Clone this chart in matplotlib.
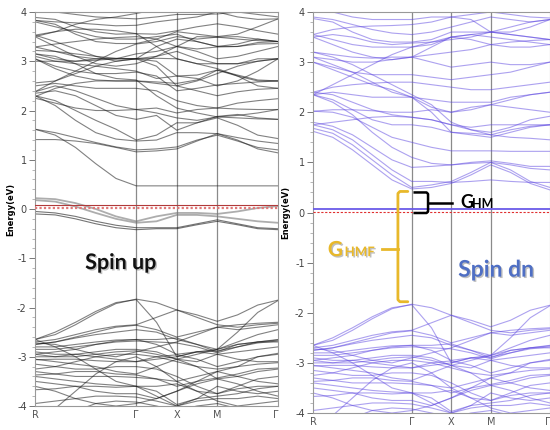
import matplotlib
matplotlib.use("Agg")
import matplotlib.pyplot as plt
import matplotlib.patheffects as pe
import numpy as np

plt.rcParams["axes.unicode_minus"] = False

# ---------------- data ----------------
# k-path sample positions (R ... Γ ... X ... M ... Γ)
k_points = [0.0, 0.2, 0.4, 0.6, 0.8, 1.0, 1.2, 1.4, 1.6, 1.8, 2.0, 2.2, 2.4]
tick_pos = [0.0, 1.0, 1.4, 1.8, 2.4]
tick_labels = ["R", "Γ", "X", "M", "Γ"]

# valence bands (nearly identical)
valence_bands = [
    [-2.65, -2.55, -2.35, -2.12, -1.92, -1.83, -1.90, -2.05, -2.15, -2.28, -2.15, -1.95, -1.85],
    [-2.65, -2.50, -2.30, -2.08, -1.90, -1.84, -2.30, -3.00, -2.90, -2.85, -2.50, -2.10, -1.86],
    [-2.70, -2.65, -2.55, -2.45, -2.38, -2.35, -2.20, -2.05, -2.20, -2.35, -2.40, -2.35, -2.32],
    [-2.75, -2.70, -2.60, -2.50, -2.40, -2.36, -2.45, -2.60, -2.50, -2.40, -2.45, -2.40, -2.35],
    [-2.80, -2.80, -2.75, -2.70, -2.66, -2.65, -2.65, -2.62, -2.75, -2.90, -2.75, -2.70, -2.65],
    [-2.85, -2.85, -2.80, -2.75, -2.70, -2.68, -2.70, -2.72, -2.80, -2.92, -2.80, -2.72, -2.68],
    [-2.90, -2.95, -2.95, -2.90, -2.85, -2.85, -2.90, -3.05, -2.95, -2.85, -2.70, -2.55, -2.45],
    [-2.95, -3.00, -3.00, -2.95, -2.90, -2.88, -2.95, -3.05, -3.10, -2.95, -2.90, -2.85, -2.80],
    [-3.00, -3.00, -2.95, -3.00, -3.05, -3.10, -3.05, -3.00, -2.90, -2.95, -3.05, -3.10, -3.10],
    [-3.05, -3.10, -3.15, -3.20, -3.30, -3.35, -3.20, -3.05, -3.20, -3.25, -3.20, -3.15, -3.12],
    [-3.25, -3.20, -3.10, -3.00, -2.95, -2.95, -3.00, -3.10, -3.20, -3.45, -3.40, -3.30, -3.25],
    [-3.30, -3.35, -3.40, -3.40, -3.40, -3.42, -3.45, -3.50, -3.40, -3.30, -3.40, -3.50, -3.55],
    [-3.40, -3.45, -3.50, -3.55, -3.58, -3.60, -3.60, -3.55, -3.70, -3.75, -3.65, -3.60, -3.60],
    [-3.50, -3.55, -3.60, -3.70, -3.75, -3.75, -3.85, -3.70, -3.50, -3.30, -3.20, -3.00, -2.95],
    [-3.95, -3.90, -3.85, -3.80, -3.80, -3.82, -3.90, -4.00, -3.90, -3.85, -3.85, -3.80, -3.85],
    [-4.30, -4.05, -3.70, -3.35, -3.10, -3.00, -3.20, -3.50, -3.70, -3.90, -4.00, -3.95, -3.90],
    [-2.65, -2.80, -3.00, -3.25, -3.50, -3.60, -3.80, -4.00, -3.85, -3.60, -3.70, -3.75, -3.70],
    [-3.60, -3.70, -3.85, -3.95, -4.00, -3.95, -3.85, -3.70, -3.55, -3.45, -3.55, -3.70, -3.80],
    [-4.50, -4.30, -4.10, -3.95, -3.90, -3.92, -4.00, -4.10, -4.00, -3.95, -4.05, -4.10, -4.20],
    [-2.72, -2.75, -2.85, -2.95, -3.00, -2.90, -2.80, -2.70, -2.55, -2.40, -2.35, -2.32, -2.30],
    [-3.15, -3.20, -3.25, -3.25, -3.20, -3.20, -3.25, -3.40, -3.60, -3.75, -3.60, -3.45, -3.40],
    [-2.75, -2.70, -2.62, -2.55, -2.50, -2.45, -2.50, -2.65, -2.75, -2.85, -2.75, -2.70, -2.70],
    [-2.95, -2.90, -2.85, -2.75, -2.68, -2.65, -2.75, -2.95, -2.90, -2.88, -2.80, -2.70, -2.66],
    [-3.37, -3.35, -3.30, -3.30, -3.35, -3.37, -3.45, -3.60, -3.50, -3.43, -3.35, -3.25, -3.23],
    [-3.06, -3.05, -3.05, -3.08, -3.10, -3.10, -3.00, -2.96, -3.05, -3.20, -3.10, -3.00, -2.93],
    [-3.67, -3.65, -3.60, -3.60, -3.62, -3.60, -3.70, -3.97, -3.85, -3.80, -3.75, -3.65, -3.60],
]

# spin-up bands around the Fermi level
up_fermi_bands = [
    [0.22, 0.20, 0.12, 0.00, -0.15, -0.25, -0.15, -0.08, -0.08, -0.10, -0.05, 0.02, 0.06],
    [0.18, 0.15, 0.05, -0.08, -0.20, -0.28, -0.25, -0.12, -0.12, -0.15, -0.20, -0.25, -0.28],
    [-0.05, -0.08, -0.15, -0.25, -0.33, -0.38, -0.38, -0.38, -0.30, -0.22, -0.30, -0.38, -0.40],
    [-0.10, -0.12, -0.20, -0.30, -0.38, -0.42, -0.40, -0.40, -0.32, -0.25, -0.32, -0.40, -0.42],
]

# spin-up conduction bands
up_conduction_bands = [
    [1.62, 1.50, 1.25, 0.92, 0.62, 0.47, 0.47, 0.47, 0.47, 0.47, 0.47, 0.47, 0.47],
    [1.41, 1.41, 1.38, 1.33, 1.25, 1.16, 1.18, 1.22, 1.38, 1.53, 1.40, 1.22, 1.14],
    [1.62, 1.55, 1.45, 1.35, 1.26, 1.20, 1.22, 1.26, 1.40, 1.50, 1.38, 1.25, 1.20],
    [2.30, 2.10, 1.80, 1.55, 1.42, 1.38, 1.40, 1.55, 1.55, 1.53, 1.45, 1.38, 1.33],
    [2.30, 2.20, 2.00, 1.80, 1.62, 1.40, 1.50, 1.75, 1.75, 1.85, 1.70, 1.50, 1.43],
    [2.35, 2.40, 2.30, 2.10, 1.90, 1.82, 1.90, 1.60, 1.75, 1.88, 1.92, 1.85, 1.82],
    [2.38, 2.50, 2.40, 2.25, 2.10, 2.02, 2.05, 1.95, 2.02, 2.05, 2.03, 2.02, 2.02],
    [2.50, 2.55, 2.50, 2.45, 2.45, 2.45, 2.40, 2.20, 2.10, 2.05, 2.15, 2.20, 2.24],
    [2.28, 2.45, 2.55, 2.60, 2.60, 2.60, 2.55, 2.50, 2.40, 2.30, 2.38, 2.43, 2.45],
    [3.05, 2.90, 2.80, 2.75, 2.75, 2.78, 2.70, 2.40, 2.45, 2.52, 2.55, 2.58, 2.60],
    [3.10, 3.00, 2.95, 2.90, 2.85, 2.80, 2.65, 2.70, 2.72, 2.82, 2.72, 2.62, 2.60],
    [3.15, 3.05, 3.00, 3.02, 3.05, 3.05, 2.90, 2.50, 2.60, 2.75, 2.90, 3.00, 3.05],
    [3.22, 3.20, 3.15, 3.10, 3.06, 3.05, 3.06, 3.05, 2.95, 2.95, 2.95, 3.00, 3.05],
    [3.29, 3.20, 3.10, 3.05, 3.05, 3.15, 3.20, 3.30, 3.25, 3.29, 3.30, 3.35, 3.36],
    [3.53, 3.40, 3.25, 3.10, 3.00, 3.05, 3.30, 3.45, 3.40, 3.30, 3.30, 3.38, 3.40],
    [3.50, 3.30, 3.10, 2.95, 2.90, 2.95, 3.10, 3.30, 3.50, 3.49, 3.45, 3.42, 3.40],
    [3.83, 3.75, 3.55, 3.40, 3.36, 3.36, 3.45, 3.60, 3.55, 3.50, 3.55, 3.70, 3.86],
    [3.89, 3.85, 3.70, 3.60, 3.55, 3.56, 3.55, 3.62, 3.70, 3.76, 3.70, 3.62, 3.55],
    [3.83, 3.80, 3.78, 3.75, 3.72, 3.73, 3.80, 3.85, 3.90, 4.00, 3.90, 3.85, 3.86],
    [4.10, 4.00, 3.95, 3.90, 3.88, 3.86, 3.90, 3.95, 3.95, 3.96, 4.00, 3.95, 3.90],
    [3.50, 3.60, 3.75, 3.85, 3.90, 3.97, 4.05, 4.10, 4.05, 4.00, 4.05, 4.10, 4.15],
    [2.38, 2.60, 2.80, 3.00, 3.20, 3.35, 3.40, 3.50, 3.45, 3.49, 3.50, 3.45, 3.40],
    [3.05, 2.85, 2.70, 2.62, 2.60, 2.60, 2.58, 2.55, 2.62, 2.82, 2.70, 2.50, 2.45],
    [3.29, 3.35, 3.40, 3.45, 3.48, 3.50, 3.45, 3.30, 3.20, 3.05, 3.10, 3.20, 3.30],
    [3.15, 3.10, 2.95, 2.75, 2.65, 2.62, 2.30, 2.05, 1.95, 1.87, 1.85, 1.83, 1.82],
    [3.53, 3.60, 3.65, 3.65, 3.62, 3.56, 3.30, 3.05, 2.95, 2.85, 2.70, 2.60, 2.60],
    [2.56, 2.60, 2.75, 2.90, 3.00, 3.05, 3.00, 2.70, 2.65, 2.50, 2.60, 2.80, 3.05],
    [2.25, 2.15, 2.05, 2.00, 2.00, 2.02, 1.95, 1.85, 1.80, 1.87, 1.90, 1.95, 2.02],
    [3.00, 3.00, 3.00, 3.05, 3.05, 3.05, 3.10, 3.20, 3.05, 2.95, 2.95, 3.05, 3.05],
    [3.80, 3.70, 3.60, 3.50, 3.45, 3.45, 3.50, 3.55, 3.40, 3.30, 3.35, 3.45, 3.40],
]

# spin-down conduction bands
dn_conduction_bands = [
    [1.62, 1.50, 1.25, 0.95, 0.65, 0.47, 0.50, 0.58, 0.75, 0.95, 0.80, 0.58, 0.45],
    [1.68, 1.58, 1.35, 1.05, 0.75, 0.50, 0.55, 0.62, 0.80, 1.00, 0.85, 0.62, 0.50],
    [1.75, 1.65, 1.45, 1.15, 0.85, 0.62, 0.62, 0.60, 0.62, 0.65, 0.62, 0.60, 0.60],
    [1.80, 1.72, 1.55, 1.30, 1.05, 0.90, 0.92, 0.95, 0.98, 1.00, 0.95, 0.88, 0.85],
    [2.02, 2.00, 1.90, 1.70, 1.50, 1.40, 1.30, 1.23, 1.23, 1.23, 1.22, 1.22, 1.22],
    [2.35, 2.25, 2.05, 1.85, 1.75, 1.75, 1.70, 1.60, 1.58, 1.55, 1.65, 1.72, 1.75],
    [2.40, 2.35, 2.20, 2.05, 1.95, 1.90, 1.85, 1.75, 1.70, 1.75, 1.75, 1.75, 1.75],
    [2.02, 2.05, 2.05, 2.03, 2.00, 2.00, 2.05, 2.00, 2.10, 2.15, 2.10, 2.05, 2.00],
    [2.35, 2.40, 2.35, 2.30, 2.30, 2.30, 2.25, 2.20, 2.20, 2.20, 2.30, 2.35, 2.40],
    [2.40, 2.50, 2.55, 2.58, 2.60, 2.60, 2.55, 2.50, 2.45, 2.45, 2.50, 2.55, 2.60],
    [3.00, 2.90, 2.80, 2.75, 2.75, 2.75, 2.70, 2.65, 2.70, 2.75, 2.80, 2.90, 3.00],
    [3.10, 3.05, 3.00, 3.00, 3.05, 3.10, 3.00, 2.90, 2.95, 3.00, 2.95, 2.95, 3.00],
    [3.20, 3.15, 3.10, 3.08, 3.10, 3.10, 3.15, 3.20, 3.25, 3.35, 3.30, 3.30, 3.35],
    [3.50, 3.35, 3.20, 3.10, 3.05, 3.10, 3.30, 3.50, 3.45, 3.35, 3.40, 3.43, 3.45],
    [3.55, 3.45, 3.35, 3.30, 3.30, 3.30, 3.35, 3.50, 3.55, 3.50, 3.45, 3.40, 3.35],
    [3.87, 3.80, 3.60, 3.45, 3.40, 3.40, 3.45, 3.60, 3.60, 3.60, 3.60, 3.70, 3.85],
    [3.90, 3.85, 3.75, 3.65, 3.58, 3.55, 3.60, 3.70, 3.80, 3.90, 3.85, 3.80, 3.85],
    [4.10, 4.00, 3.90, 3.85, 3.85, 3.85, 3.90, 3.90, 3.95, 4.00, 3.95, 3.90, 3.88],
    [2.35, 2.55, 2.75, 2.95, 3.15, 3.30, 3.40, 3.50, 3.55, 3.60, 3.55, 3.50, 3.45],
    [3.10, 2.95, 2.80, 2.60, 2.40, 2.30, 2.00, 1.60, 1.55, 1.50, 1.60, 1.70, 1.75],
    [3.00, 2.85, 2.70, 2.55, 2.45, 2.30, 2.10, 2.00, 2.05, 2.15, 2.25, 2.35, 2.40],
    [3.55, 3.65, 3.70, 3.72, 3.73, 3.75, 3.80, 3.90, 3.85, 3.60, 3.70, 3.80, 3.85],
    [1.75, 1.80, 1.85, 1.90, 1.92, 1.90, 1.85, 1.75, 1.65, 1.55, 1.50, 1.48, 1.45],
    [2.35, 2.20, 1.95, 1.60, 1.30, 1.10, 0.98, 0.95, 1.00, 1.03, 0.98, 0.92, 0.92],
    [3.20, 3.10, 2.95, 2.75, 2.55, 2.35, 2.15, 1.80, 1.65, 1.60, 1.70, 1.85, 1.92],
    [3.50, 3.55, 3.50, 3.40, 3.35, 3.38, 3.40, 3.45, 3.50, 3.60, 3.55, 3.50, 3.45],
]

# reference lines / gaps
up_fermi_line = 0.08
up_fermi_dotted = 0.03
dn_band_line = 0.07
dn_fermi_dashed = 0.015
dn_cbm = 0.42
vbm = -1.78
gap_hm_bottom = -0.01

# ---------------- figure ----------------
fig = plt.figure(figsize=(5.5, 4.3), dpi=100)
ax1 = fig.add_axes([35 / 550, 1 - 406 / 430, 243 / 550, 394 / 430])
ax2 = fig.add_axes([313 / 550, 1 - 413 / 430, 237 / 550, 401 / 430])

up_color = "#1a1a1a"
dn_color = "#5b45e0"


def style_axis(ax, label_x):
    ax.set_xlim(k_points[0], k_points[-1])
    ax.set_ylim(-4, 4)
    ax.set_xticks(tick_pos)
    ax.set_xticklabels(tick_labels)
    ax.get_xticklabels()[-1].set_horizontalalignment("right")
    ax.set_yticks(np.arange(-4, 5, 1))
    ax.set_yticks(np.arange(-4, 4.01, 0.2), minor=True)
    ax.tick_params(axis="y", which="major", length=4, width=0.7, color="#777777",
                   labelsize=7, labelcolor="#444444", pad=2)
    ax.tick_params(axis="y", which="minor", length=2, width=0.5, color="#999999")
    ax.tick_params(axis="x", length=0, labelsize=7, labelcolor="#555555", pad=3)
    for s in ax.spines.values():
        s.set_color("#999999")
        s.set_linewidth(0.8)
    for kp in tick_pos[1:-1]:
        ax.axvline(kp, color="#8a8a8a", lw=0.9, zorder=1)
    ax.set_ylabel("Energy(eV)", fontsize=6, fontweight="bold")
    ax.yaxis.set_label_coords(label_x, 0.5)


style_axis(ax1, -20 / 243)
style_axis(ax2, -23 / 237)

# left: spin up
for band in valence_bands + up_conduction_bands:
    ax1.plot(k_points, band, color=up_color, lw=0.8, alpha=0.55, zorder=2)
for band in up_fermi_bands[:2]:
    ax1.plot(k_points, band, color="#777777", lw=1.3, alpha=0.6, zorder=2)
for band in up_fermi_bands[2:]:
    ax1.plot(k_points, band, color=up_color, lw=0.8, alpha=0.6, zorder=2)
ax1.axhline(up_fermi_line, color="#b23a3a", lw=0.8, zorder=3)
ax1.axhline(up_fermi_dotted, color="#e07878", lw=1.6, ls=(0, (1, 1)), zorder=3)

# right: spin down
for band in valence_bands + dn_conduction_bands:
    ax2.plot(k_points, band, color=dn_color, lw=0.8, alpha=0.5, zorder=2)
ax2.axhline(dn_band_line, color="#6a5ae8", lw=1.3, zorder=3)
ax2.axhline(dn_fermi_dashed, color="#e03030", lw=0.8, ls=(0, (2, 1.5)), zorder=3)

shadow = [pe.withSimplePatchShadow(offset=(1, -1), shadow_rgbFace="#000000", alpha=0.25)]

ax1.text(0.495, -1.22, "Spin up", fontsize=15.5, fontweight="bold", family="Lato",
         color="#111111", ha="left", va="baseline", path_effects=shadow, zorder=5)
ax2.text(1.47, -1.28, "Spin dn", fontsize=16.5, fontweight="bold", family="Lato",
         color="#4f6fc4", ha="left", va="baseline", path_effects=shadow, zorder=5)

# G_HMF bracket (gold)
gold = "#e8b82a"
ax2.plot([0.96, 0.88, 0.86, 0.86, 0.88, 0.96],
         [dn_cbm, dn_cbm, dn_cbm - 0.04, vbm + 0.04, vbm, vbm],
         color=gold, lw=2, solid_capstyle="round", solid_joinstyle="round", zorder=6)
mid_hmf = (dn_cbm + vbm) / 2 - 0.05
ax2.plot([0.70, 0.86], [mid_hmf, mid_hmf], color=gold, lw=2, zorder=6)
ax2.text(0.15, -0.87, "G", fontsize=15, fontweight="bold", family="Lato", color=gold,
         ha="left", va="baseline", path_effects=shadow, zorder=6)
ax2.text(0.32, -0.87, "HMF", fontsize=9.5, fontweight="bold", family="Lato", color=gold,
         ha="left", va="baseline", path_effects=shadow, zorder=6)

# G_HM bracket (black)
ax2.plot([1.03, 1.15, 1.165, 1.165, 1.15, 1.03],
         [0.40, 0.40, 0.37, gap_hm_bottom + 0.03, gap_hm_bottom, gap_hm_bottom],
         color="black", lw=1.8, solid_joinstyle="round", zorder=6)
mid_hm = (0.40 + gap_hm_bottom) / 2
ax2.plot([1.165, 1.41], [mid_hm, mid_hm], color="black", lw=1.8, zorder=6)
ax2.text(1.49, 0.09, "G", fontsize=13, fontweight="bold", family="Lato", color="black",
         ha="left", va="baseline", zorder=6)
ax2.text(1.61, 0.09, "HM", fontsize=9, fontweight="bold", family="Lato", color="black",
         ha="left", va="baseline", zorder=6)

fig.savefig("out.png", dpi=100)
